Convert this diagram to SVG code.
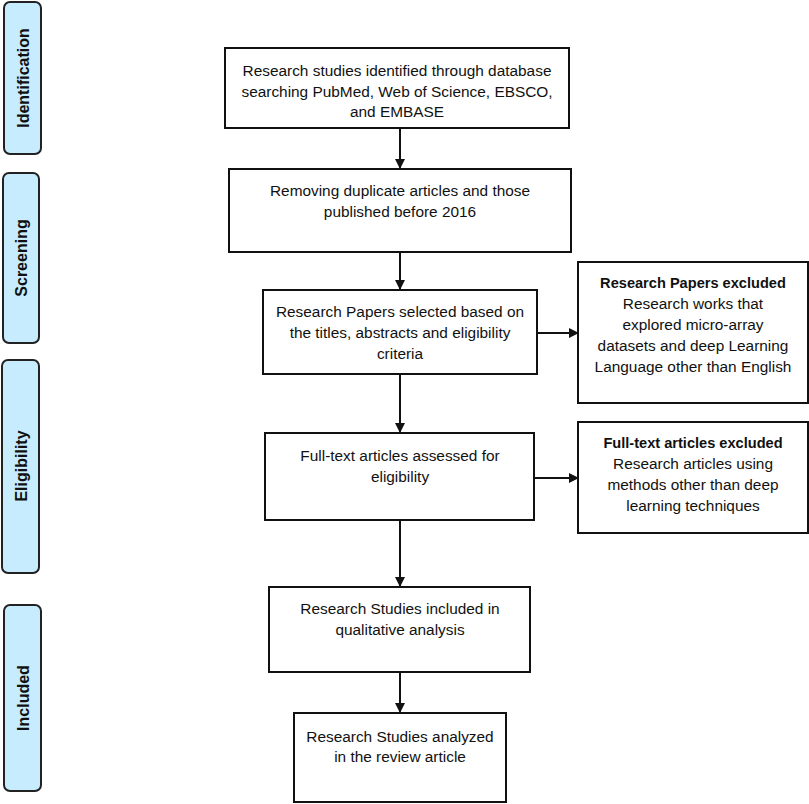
<svg xmlns="http://www.w3.org/2000/svg" width="809" height="804" viewBox="0 0 809 804">
<style>
.box{fill:#fff;stroke:#111;stroke-width:2}
.side{fill:#c6ecfd;stroke:#222;stroke-width:2}
.t{font-family:"Liberation Sans",Arial,sans-serif;font-size:15.4px;fill:#111;text-anchor:middle}
.b{font-weight:bold;font-size:14.6px}
.s{font-family:"Liberation Sans",Arial,sans-serif;font-size:16px;font-weight:bold;fill:#111;text-anchor:middle;dominant-baseline:central}
.c{stroke:#111;stroke-width:2;fill:none;marker-end:url(#ah)}
</style>
<defs>
<marker id="ah" markerWidth="10" markerHeight="10" refX="9" refY="5" orient="auto" markerUnits="userSpaceOnUse">
<path d="M0,0 L10,5 L0,10 Z" fill="#111"/>
</marker>
</defs>
<rect width="809" height="804" fill="#fff"/>
<g id="stage-identification"><rect class="side" x="4" y="2" width="37" height="152" rx="6"/><text class="s" transform="translate(23,78) rotate(-90)">Identification</text></g>
<g id="stage-screening"><rect class="side" x="3" y="173" width="36" height="170" rx="6"/><text class="s" transform="translate(21,258) rotate(-90)">Screening</text></g>
<g id="stage-eligibility"><rect class="side" x="2" y="360" width="37" height="213" rx="6"/><text class="s" transform="translate(21,466) rotate(-90)">Eligibility</text></g>
<g id="stage-included"><rect class="side" x="4" y="605" width="37" height="186" rx="6"/><text class="s" transform="translate(23,698) rotate(-90)">Included</text></g>

<g id="connectors">
<line class="c" x1="400" y1="129" x2="400" y2="168"/>
<line class="c" x1="400" y1="252" x2="400" y2="289"/>
<line class="c" x1="400" y1="374" x2="400" y2="432"/>
<line class="c" x1="400" y1="520" x2="400" y2="586"/>
<line class="c" x1="400" y1="672" x2="400" y2="712"/>
<line class="c" x1="537" y1="333" x2="578" y2="333"/>
<line class="c" x1="534" y1="478" x2="578" y2="478"/>
</g>

<g id="n1"><rect class="box" x="225" y="48" width="344" height="80"/>
<text class="t" x="397" y="76">Research studies identified through database</text>
<text class="t" x="397" y="97">searching PubMed, Web of Science, EBSCO,</text>
<text class="t" x="397" y="117">and EMBASE</text></g>
<g id="n2"><rect class="box" x="229" y="169" width="342" height="83"/>
<text class="t" x="400" y="196">Removing duplicate articles and those</text>
<text class="t" x="400" y="217">published before 2016</text></g>
<g id="n3"><rect class="box" x="263" y="290" width="274" height="84"/>
<text class="t" x="400" y="317">Research Papers selected based on</text>
<text class="t" x="400" y="338">the titles, abstracts and eligibility</text>
<text class="t" x="400" y="359">criteria</text></g>
<g id="n4"><rect class="box" x="578" y="262" width="230" height="141"/>
<text class="t b" x="693" y="288">Research Papers excluded</text>
<text class="t" x="693" y="309">Research works that</text>
<text class="t" x="693" y="330">explored micro-array</text>
<text class="t" x="693" y="351">datasets and deep Learning</text>
<text class="t" x="693" y="372">Language other than English</text></g>
<g id="n5"><rect class="box" x="265" y="433" width="269" height="87"/>
<text class="t" x="400" y="461">Full-text articles assessed for</text>
<text class="t" x="400" y="482">eligibility</text></g>
<g id="n6"><rect class="box" x="578" y="422" width="230" height="111"/>
<text class="t b" x="693" y="448">Full-text articles excluded</text>
<text class="t" x="693" y="469">Research articles using</text>
<text class="t" x="693" y="490">methods other than deep</text>
<text class="t" x="693" y="511">learning techniques</text></g>
<g id="n7"><rect class="box" x="269" y="587" width="261" height="85"/>
<text class="t" x="400" y="614">Research Studies included in</text>
<text class="t" x="400" y="635">qualitative analysis</text></g>
<g id="n8"><rect class="box" x="294" y="713" width="212" height="89"/>
<text class="t" x="400" y="742">Research Studies analyzed</text>
<text class="t" x="400" y="762">in the review article</text></g>
</svg>
